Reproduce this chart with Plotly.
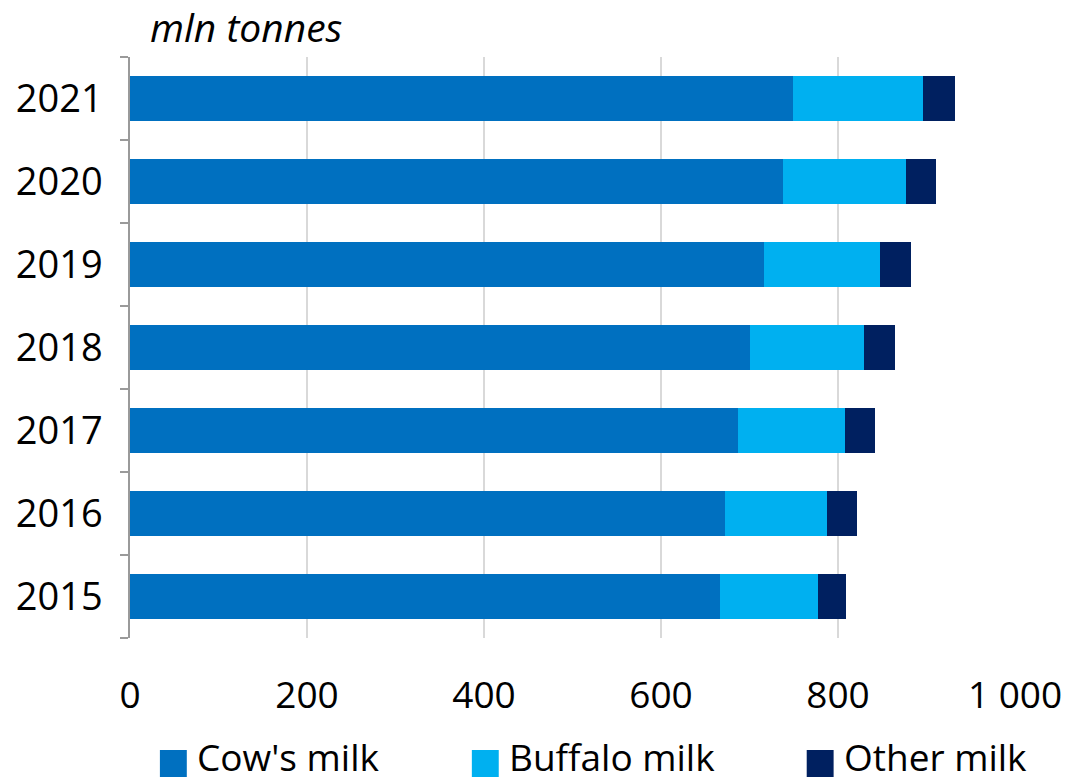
import plotly.graph_objects as go

# World milk production by type, million tonnes
years = ["2015", "2016", "2017", "2018", "2019", "2020", "2021"]
cows_milk = [667, 672, 687, 700, 716, 738, 749]
buffalo_milk = [110, 116, 121, 129, 132, 139, 147]
other_milk = [32, 33, 34, 35, 35, 34, 36]

series = [
    ("Cow's milk", cows_milk, "#0070C0"),
    ("Buffalo milk", buffalo_milk, "#00B0F0"),
    ("Other milk", other_milk, "#002060"),
]
x_ticks = [0, 200, 400, 600, 800, 1000]
x_tick_text = ["0", "200", "400", "600", "800", "1 000"]

FONT = "Open Sans, Liberation Sans, sans-serif"
FS = 37

W, H = 1074, 781
ML, MR, MT, MB = 130, 56, 57, 143
PW, PH = W - ML - MR, H - MT - MB


def px_x(px):
    return (px - ML) / PW


def px_y(py):
    return (H - MB - py) / PH


fig = go.Figure()
for name, vals, color in series:
    fig.add_trace(go.Bar(
        y=years, x=vals, name=name, orientation="h",
        marker=dict(color=color, line=dict(width=0)),
        showlegend=False,
    ))

# legend row below the axis: square swatch + label per series
legend_left = [160, 473, 809]
shapes, annotations = [], []
for (name, _, color), lx in zip(series, legend_left):
    shapes.append(dict(
        type="rect", xref="paper", yref="paper",
        x0=px_x(lx), x1=px_x(lx + 27), y0=px_y(777), y1=px_y(750),
        fillcolor=color, line=dict(width=0),
    ))
    annotations.append(dict(
        text=name, xref="paper", yref="paper",
        x=px_x(lx + 35), y=px_y(757), xanchor="left", yanchor="middle",
        showarrow=False, font=dict(size=FS),
    ))

annotations.append(dict(
    text="mln tonnes", xref="paper", yref="paper",
    x=px_x(148), y=px_y(27), xanchor="left", yanchor="middle",
    showarrow=False, font=dict(size=39, style="italic"),
))

fig.update_layout(
    width=W, height=H,
    margin=dict(l=ML, r=MR, t=MT, b=MB),
    barmode="stack", bargap=0.46,
    plot_bgcolor="white", paper_bgcolor="white",
    font=dict(family=FONT, size=FS, color="#000000"),
    showlegend=False,
    shapes=shapes,
    annotations=annotations,
)
fig.update_xaxes(
    range=[0, 1000], tickvals=x_ticks, ticktext=x_tick_text,
    showgrid=True, gridcolor="#D9D9D9", gridwidth=1.5,
    zeroline=False, showline=False, ticks="",
    ticklabelstandoff=32, fixedrange=True,
)
fig.update_yaxes(
    type="category", categoryorder="array", categoryarray=years,
    showline=True, linecolor="#9A9A9A", linewidth=1.5,
    ticks="outside", tickson="boundaries", ticklen=8,
    tickcolor="#9A9A9A", tickwidth=1.5,
    ticklabelstandoff=18, showgrid=False, fixedrange=True,
    tickfont=dict(size=38),
)

fig.write_html("out.html")
